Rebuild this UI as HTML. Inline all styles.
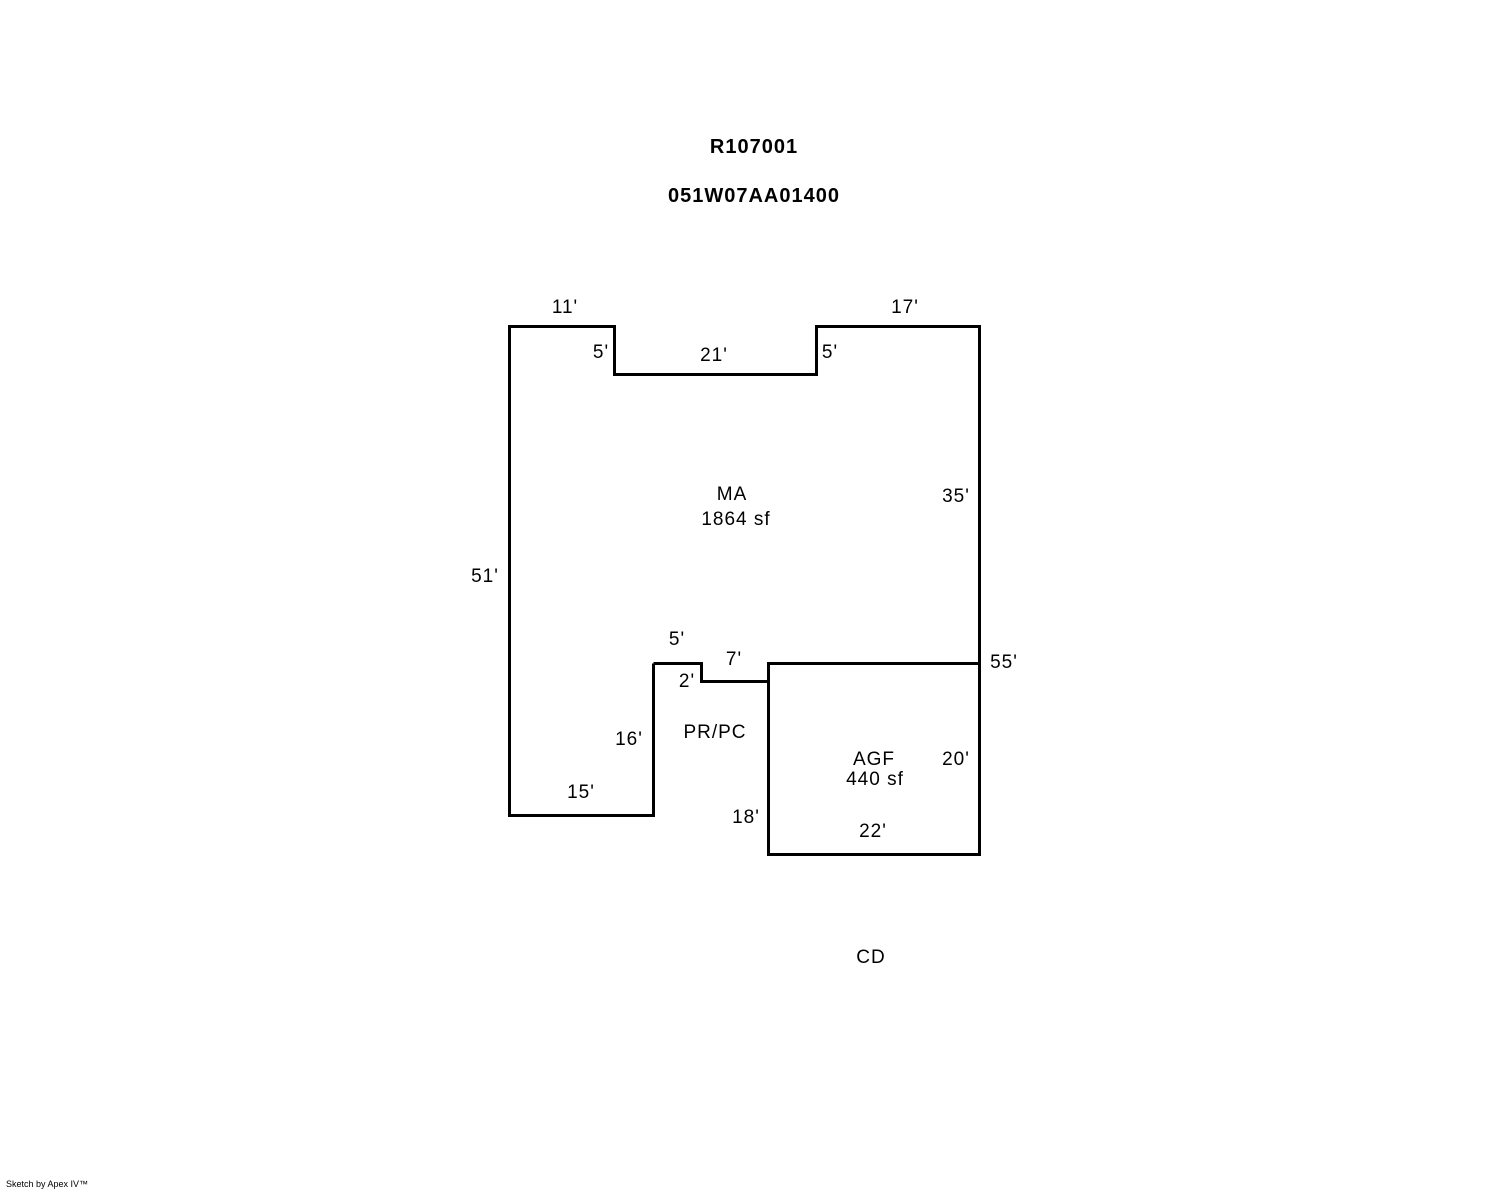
<!DOCTYPE html>
<html><head><style>
body{margin:0;background:#fff;}
svg{display:block}
text{font-family:"Liberation Sans",Arial,sans-serif;font-size:19px;fill:#000;letter-spacing:1px}
</style></head><body>
<svg width="1488" height="1190" viewBox="0 0 1488 1190">
<g fill="none" stroke="#000" stroke-width="3">
<polyline points="653.5,663.5 653.5,815.5 509.5,815.5 509.5,326.5 614.5,326.5 614.5,374.5 816.5,374.5 816.5,326.5 979.5,326.5 979.5,663.5"/>
<polyline points="653.5,663.5 701.5,663.5 701.5,681.5 768.5,681.5"/>
<rect x="768.5" y="663.5" width="211" height="191"/>
</g>
<text x="754" y="153" text-anchor="middle" font-weight="bold" style="font-size:20px">R107001</text>
<text x="754" y="202" text-anchor="middle" font-weight="bold" style="font-size:20px">051W07AA01400</text>
<text x="565" y="313" text-anchor="middle">11'</text>
<text x="905" y="313" text-anchor="middle">17'</text>
<text x="601" y="358" text-anchor="middle">5'</text>
<text x="714" y="361" text-anchor="middle">21'</text>
<text x="830" y="358" text-anchor="middle">5'</text>
<text x="732" y="500" text-anchor="middle">MA</text>
<text x="736" y="525" text-anchor="middle">1864 sf</text>
<text x="956" y="502" text-anchor="middle">35'</text>
<text x="485" y="582" text-anchor="middle">51'</text>
<text x="677" y="645" text-anchor="middle">5'</text>
<text x="734" y="665" text-anchor="middle">7'</text>
<text x="1004" y="668" text-anchor="middle">55'</text>
<text x="687" y="687" text-anchor="middle">2'</text>
<text x="715" y="738" text-anchor="middle">PR/PC</text>
<text x="629" y="745" text-anchor="middle">16'</text>
<text x="874" y="765" text-anchor="middle">AGF</text>
<text x="875" y="785" text-anchor="middle">440 sf</text>
<text x="956" y="765" text-anchor="middle">20'</text>
<text x="581" y="798" text-anchor="middle">15'</text>
<text x="746" y="823" text-anchor="middle">18'</text>
<text x="873" y="837" text-anchor="middle">22'</text>
<text x="871" y="963" text-anchor="middle">CD</text>
<text x="6" y="1187" style="font-size:9px;letter-spacing:0">Sketch by Apex IV™</text>
</svg>
</body></html>
